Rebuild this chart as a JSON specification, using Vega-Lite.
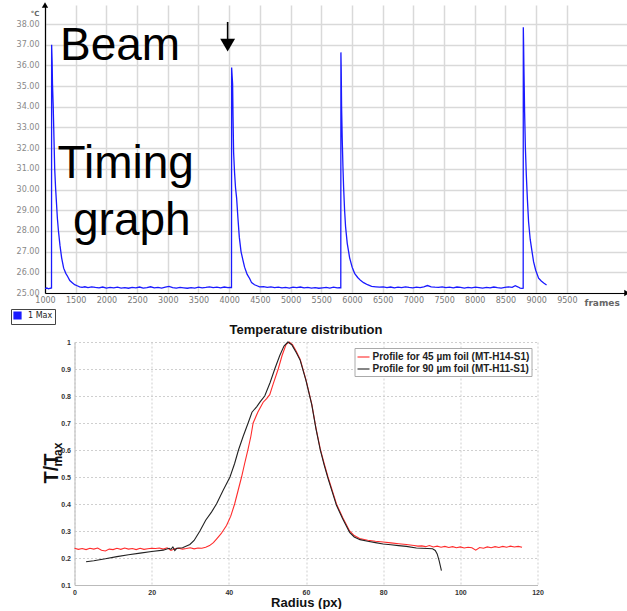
{
  "$schema": "https://vega.github.io/schema/vega-lite/v6.json",
  "background": "white",
  "padding": {"left": 10, "top": 2, "right": 0, "bottom": 0},
  "config": {"view": {"stroke": null}, "font": "Liberation Sans"},
  "spacing": -1,
  "resolve": {"scale": {"x": "independent", "y": "independent", "color": "independent"}, "legend": {"color": "independent"}, "axis": {"x": "independent", "y": "independent"}},
  "vconcat": [
    {
      "width": 582,
      "height": 288,
      "encoding": {
        "x": {"field": "frame", "type": "quantitative",
          "scale": {"domain": [1000, 10480], "nice": false, "zero": false},
          "axis": {"values": [1000,1500,2000,2500,3000,3500,4000,4500,5000,5500,6000,6500,7000,7500,8000,8500,9000,9500],
            "format": "d", "title": "frames", "titleX": 539, "titleY": 12, "titleAlign": "left", "titleBaseline": "alphabetic",
            "titleFont": "DejaVu Sans", "titleFontSize": 9, "titleFontWeight": "bold", "titleColor": "#666",
            "labelFont": "DejaVu Sans", "labelFontSize": 8, "labelColor": "#777", "labelPadding": 3, "labelFlush": false, "labelOverlap": false,
            "ticks": false, "domainColor": "#000", "domainWidth": 1.2, "gridColor": "#d9d9d9", "gridWidth": 1.5}},
        "y": {"field": "temp", "type": "quantitative",
          "scale": {"domain": [25, 38.92], "nice": false, "zero": false},
          "axis": {"values": [25,26,27,28,29,30,31,32,33,34,35,36,37,38], "format": ".2f", "labelOverlap": false,
            "title": "°C", "titleAngle": 0, "titleX": -6, "titleY": 10, "titleAlign": "right", "titleBaseline": "alphabetic",
            "titleFont": "DejaVu Sans", "titleFontSize": 7, "titleFontWeight": "bold", "titleColor": "#666",
            "labelFont": "DejaVu Sans", "labelFontSize": 8, "labelColor": "#888", "labelPadding": 6,
            "ticks": false, "domainColor": "#000", "domainWidth": 1.2, "gridColor": "#d9d9d9", "gridWidth": 1.5}}
      },
      "layer": [
        {
          "data": {"values": [
            {"frame":1000,"temp":25.22},{"frame":1030,"temp":25.24},{"frame":1060,"temp":25.2},{"frame":1085,"temp":25.23},{"frame":1106,"temp":25.24},
            {"frame":1108,"temp":37.0},{"frame":1116,"temp":36.2},{"frame":1122,"temp":35.1},{"frame":1134,"temp":34.0},{"frame":1142,"temp":33.0},{"frame":1150,"temp":32.0},{"frame":1158,"temp":31.0},{"frame":1172,"temp":30.1},{"frame":1186,"temp":29.4},{"frame":1202,"temp":28.6},{"frame":1219,"temp":28.0},{"frame":1244,"temp":27.3},{"frame":1271,"temp":26.7},{"frame":1304,"temp":26.2},{"frame":1339,"temp":25.95},{"frame":1369,"temp":25.8},{"frame":1404,"temp":25.6},{"frame":1444,"temp":25.5},{"frame":1483,"temp":25.4},{"frame":1524,"temp":25.35},{"frame":1564,"temp":25.3},{"frame":1604,"temp":25.27},
            {"frame":1650,"temp":25.3},{"frame":1700,"temp":25.26},{"frame":1760,"temp":25.3},{"frame":1820,"temp":25.27},{"frame":1880,"temp":25.25},{"frame":1940,"temp":25.29},{"frame":2000,"temp":25.24},{"frame":2060,"temp":25.27},{"frame":2120,"temp":25.25},{"frame":2180,"temp":25.28},{"frame":2240,"temp":25.24},{"frame":2300,"temp":25.26},{"frame":2360,"temp":25.23},{"frame":2420,"temp":25.27},{"frame":2480,"temp":25.25},{"frame":2540,"temp":25.29},{"frame":2600,"temp":25.24},{"frame":2660,"temp":25.26},{"frame":2720,"temp":25.3},{"frame":2780,"temp":25.25},{"frame":2840,"temp":25.27},{"frame":2900,"temp":25.24},{"frame":2960,"temp":25.28},{"frame":3020,"temp":25.32},{"frame":3080,"temp":25.26},{"frame":3140,"temp":25.24},{"frame":3200,"temp":25.27},{"frame":3260,"temp":25.25},{"frame":3320,"temp":25.23},{"frame":3380,"temp":25.26},{"frame":3440,"temp":25.24},{"frame":3500,"temp":25.28},{"frame":3560,"temp":25.25},{"frame":3620,"temp":25.27},{"frame":3680,"temp":25.3},{"frame":3740,"temp":25.26},{"frame":3800,"temp":25.28},{"frame":3860,"temp":25.25},{"frame":3920,"temp":25.29},{"frame":3980,"temp":25.26},{"frame":4015,"temp":25.27},
            {"frame":4038,"temp":25.26},{"frame":4040,"temp":35.9},{"frame":4048,"temp":35.5},{"frame":4056,"temp":35.1},{"frame":4063,"temp":33.5},{"frame":4072,"temp":31.8},{"frame":4088,"temp":30.8},{"frame":4103,"temp":30.1},{"frame":4121,"temp":29.6},{"frame":4143,"temp":28.6},{"frame":4165,"temp":27.7},{"frame":4193,"temp":27.0},{"frame":4223,"temp":26.6},{"frame":4251,"temp":26.25},{"frame":4293,"temp":25.9},{"frame":4333,"temp":25.7},{"frame":4365,"temp":25.5},{"frame":4413,"temp":25.4},{"frame":4453,"temp":25.35},{"frame":4495,"temp":25.3},
            {"frame":4560,"temp":25.31},{"frame":4620,"temp":25.27},{"frame":4680,"temp":25.3},{"frame":4740,"temp":25.26},{"frame":4800,"temp":25.28},{"frame":4860,"temp":25.25},{"frame":4920,"temp":25.27},{"frame":4980,"temp":25.24},{"frame":5040,"temp":25.28},{"frame":5100,"temp":25.26},{"frame":5160,"temp":25.29},{"frame":5220,"temp":25.25},{"frame":5280,"temp":25.27},{"frame":5340,"temp":25.24},{"frame":5400,"temp":25.26},{"frame":5460,"temp":25.23},{"frame":5520,"temp":25.25},{"frame":5580,"temp":25.27},{"frame":5640,"temp":25.24},{"frame":5700,"temp":25.28},{"frame":5760,"temp":25.25},{"frame":5800,"temp":25.26},
            {"frame":5818,"temp":25.25},{"frame":5820,"temp":36.63},{"frame":5825,"temp":35.8},{"frame":5831,"temp":34.0},{"frame":5841,"temp":32.5},{"frame":5853,"temp":31.1},{"frame":5864,"temp":30.1},{"frame":5880,"temp":29.0},{"frame":5896,"temp":28.2},{"frame":5923,"temp":27.4},{"frame":5962,"temp":26.7},{"frame":6003,"temp":26.25},{"frame":6043,"temp":25.95},{"frame":6093,"temp":25.75},{"frame":6143,"temp":25.6},{"frame":6190,"temp":25.5},{"frame":6253,"temp":25.4},{"frame":6320,"temp":25.32},
            {"frame":6390,"temp":25.3},{"frame":6450,"temp":25.28},{"frame":6510,"temp":25.3},{"frame":6570,"temp":25.26},{"frame":6630,"temp":25.29},{"frame":6690,"temp":25.25},{"frame":6750,"temp":25.28},{"frame":6810,"temp":25.26},{"frame":6870,"temp":25.3},{"frame":6930,"temp":25.27},{"frame":6990,"temp":25.25},{"frame":7050,"temp":25.28},{"frame":7110,"temp":25.26},{"frame":7170,"temp":25.3},{"frame":7230,"temp":25.36},{"frame":7290,"temp":25.3},{"frame":7350,"temp":25.28},{"frame":7410,"temp":25.27},{"frame":7470,"temp":25.3},{"frame":7530,"temp":25.26},{"frame":7590,"temp":25.28},{"frame":7650,"temp":25.25},{"frame":7710,"temp":25.29},{"frame":7770,"temp":25.27},{"frame":7830,"temp":25.24},{"frame":7890,"temp":25.27},{"frame":7950,"temp":25.25},{"frame":8010,"temp":25.28},{"frame":8070,"temp":25.26},{"frame":8130,"temp":25.24},{"frame":8190,"temp":25.27},{"frame":8250,"temp":25.25},{"frame":8310,"temp":25.29},{"frame":8370,"temp":25.26},{"frame":8430,"temp":25.24},{"frame":8490,"temp":25.27},{"frame":8550,"temp":25.3},{"frame":8610,"temp":25.27},{"frame":8660,"temp":25.35},{"frame":8700,"temp":25.3},{"frame":8740,"temp":25.24},{"frame":8770,"temp":25.22},
            {"frame":8789,"temp":25.23},{"frame":8791,"temp":37.84},{"frame":8796,"temp":37.0},{"frame":8801,"temp":35.87},{"frame":8807,"temp":34.8},{"frame":8812,"temp":33.75},{"frame":8825,"temp":32.0},{"frame":8840,"temp":30.7},{"frame":8858,"temp":29.5},{"frame":8877,"temp":28.43},{"frame":8903,"temp":27.6},{"frame":8933,"temp":27.0},{"frame":8959,"temp":26.5},{"frame":8993,"temp":26.1},{"frame":9040,"temp":25.72},{"frame":9083,"temp":25.58},{"frame":9123,"temp":25.48},{"frame":9170,"temp":25.39}
          ]},
          "mark": {"type": "line", "strokeWidth": 1.3, "clip": true},
          "encoding": {
            "color": {"datum": "1 Max", "type": "nominal",
              "scale": {"domain": ["1 Max"], "range": ["#1a1aff"]},
              "legend": {"orient": "none", "legendX": -34, "legendY": 304, "title": null,
                "symbolType": "square", "symbolSize": 45, "symbolFillColor": "#1a1aff", "symbolStrokeColor": "#1a1aff",
                "labelFont": "DejaVu Sans", "labelFontSize": 8, "labelColor": "#222", "labelOffset": 6,
                "strokeColor": "#444", "padding": 2}}
          }
        },
        {
          "data": {"values": [
            {"frame": 1244, "temp": 36.26, "label": "Beam"},
            {"frame": 1204, "temp": 30.56, "label": "Timing"},
            {"frame": 1456, "temp": 27.8, "label": "graph"}
          ]},
          "mark": {"type": "text", "font": "Liberation Sans", "fontSize": 46, "align": "left", "baseline": "alphabetic", "color": "#000"},
          "encoding": {"text": {"field": "label"}}
        },
        {
          "data": {"values": [{"frame": 3975, "temp": 38.1, "temp2": 37.2}]},
          "mark": {"type": "rule", "strokeWidth": 1.6, "color": "#000"},
          "encoding": {"y2": {"field": "temp2"}}
        },
        {
          "data": {"values": [{"frame": 3975, "temp": 36.98}]},
          "mark": {"type": "point", "shape": "triangle-down", "size": 220, "filled": true, "color": "#000", "opacity": 1},
          "encoding": {}
        },
        {
          "data": {"values": [{"frame": 10480, "temp": 25}]},
          "mark": {"type": "point", "shape": "triangle-right", "size": 40, "filled": true, "color": "#000", "opacity": 1},
          "encoding": {}
        },
        {
          "data": {"values": [{"frame": 1000, "temp": 38.92}]},
          "mark": {"type": "point", "shape": "triangle-up", "size": 40, "filled": true, "color": "#000", "opacity": 1},
          "encoding": {}
        }
      ]
    },
    {
      "spacing": -4.5,
      "resolve": {"scale": {"x": "independent", "y": "independent", "color": "independent"}, "legend": {"color": "independent"}},
      "hconcat": [
        {
          "width": 1,
          "height": 1,
          "data": {"values": []},
          "mark": {"type": "point"},
          "encoding": {}
        },
        {
          "width": 463,
          "height": 243,
          "title": {"text": "Temperature distribution", "font": "Liberation Sans", "fontSize": 13, "fontWeight": "bold", "color": "#111", "offset": 1, "anchor": "middle"},
          "encoding": {
            "x": {"field": "r", "type": "quantitative",
              "scale": {"domain": [0, 120], "nice": false, "zero": false},
              "axis": {"values": [0,20,40,60,80,100,120], "title": "Radius (px)",
                "titleFont": "Liberation Sans", "titleFontSize": 13, "titleFontWeight": "bold", "titleColor": "#111", "titlePadding": 1,
                "labelFont": "Liberation Sans", "labelFontSize": 7, "labelFontWeight": "bold", "labelColor": "#333", "labelPadding": 3, "labelFlush": false, "labelOverlap": false,
                "ticks": false, "domainColor": "#bbb", "gridColor": "#cfcfcf", "gridDash": [2, 2]}},
            "y": {"field": "v", "type": "quantitative",
              "scale": {"domain": [0.1, 1], "nice": false, "zero": false},
              "axis": {"values": [0.1,0.2,0.3,0.4,0.5,0.6,0.7,0.8,0.9,1], "format": "~g", "title": "T/T", "labelOverlap": false,
                "titleFont": "Liberation Sans", "titleFontSize": 20, "titleFontWeight": "bold", "titleColor": "#111", "titlePadding": -1, "titleY": 126,
                "labelFont": "Liberation Sans", "labelFontSize": 7, "labelFontWeight": "bold", "labelColor": "#333", "labelPadding": 4,
                "ticks": false, "domainColor": "#bbb", "gridColor": "#cfcfcf", "gridDash": [2, 2]}}
          },
          "layer": [
            {
              "data": {"values": [
                {"r":0,"v":0.236},{"r":1,"v":0.232},{"r":2,"v":0.235},{"r":3,"v":0.231},{"r":4,"v":0.236},{"r":5,"v":0.233},{"r":6,"v":0.237},{"r":7,"v":0.229},{"r":8,"v":0.226},{"r":9,"v":0.233},{"r":10,"v":0.231},{"r":11,"v":0.236},{"r":12,"v":0.232},{"r":13,"v":0.237},{"r":14,"v":0.233},{"r":15,"v":0.235},{"r":16,"v":0.231},{"r":17,"v":0.236},{"r":18,"v":0.232},{"r":19,"v":0.234},{"r":20,"v":0.236},{"r":21,"v":0.235},{"r":22,"v":0.237},{"r":23,"v":0.233},{"r":24,"v":0.238},{"r":25,"v":0.228},{"r":26,"v":0.234},{"r":27,"v":0.236},{"r":28,"v":0.233},{"r":29,"v":0.235},{"r":30,"v":0.238},{"r":31,"v":0.234},{"r":32,"v":0.237},{"r":33,"v":0.236},{"r":34,"v":0.24},{"r":35,"v":0.246},{"r":36,"v":0.257},{"r":36.8,"v":0.27},{"r":38,"v":0.29},{"r":39.4,"v":0.32},{"r":40.5,"v":0.355},{"r":41.5,"v":0.4},{"r":42.4,"v":0.45},{"r":43.3,"v":0.5},{"r":44.1,"v":0.55},{"r":45,"v":0.604},{"r":45.7,"v":0.65},{"r":46.3,"v":0.7},{"r":47.5,"v":0.74},{"r":48.9,"v":0.777},{"r":49.8,"v":0.79},{"r":50.6,"v":0.805},{"r":51.5,"v":0.845},{"r":52.8,"v":0.9},{"r":53.8,"v":0.95},{"r":54.8,"v":0.99},{"r":55.6,"v":1.0},{"r":56.5,"v":0.99},{"r":57.5,"v":0.965},{"r":58.5,"v":0.935},{"r":60,"v":0.86},{"r":61.5,"v":0.77},{"r":62.6,"v":0.68},{"r":63.7,"v":0.604},{"r":64.7,"v":0.55},{"r":65.7,"v":0.5},{"r":66.8,"v":0.45},{"r":67.9,"v":0.4},{"r":69.5,"v":0.35},{"r":71.3,"v":0.3},{"r":72.5,"v":0.283},{"r":73.9,"v":0.272},{"r":76,"v":0.266},{"r":78,"v":0.262},{"r":80,"v":0.259},{"r":82,"v":0.256},{"r":84,"v":0.253},{"r":86,"v":0.25},{"r":88,"v":0.246},{"r":89,"v":0.244},{"r":90,"v":0.245},{"r":91,"v":0.242},{"r":92,"v":0.246},{"r":93,"v":0.241},{"r":94,"v":0.244},{"r":95,"v":0.24},{"r":96,"v":0.243},{"r":97,"v":0.239},{"r":98,"v":0.242},{"r":99,"v":0.238},{"r":100,"v":0.241},{"r":101,"v":0.237},{"r":102,"v":0.24},{"r":103,"v":0.238},{"r":104,"v":0.229},{"r":105,"v":0.239},{"r":106,"v":0.236},{"r":107,"v":0.241},{"r":108,"v":0.238},{"r":109,"v":0.242},{"r":110,"v":0.239},{"r":111,"v":0.243},{"r":112,"v":0.24},{"r":113,"v":0.244},{"r":114,"v":0.241},{"r":115,"v":0.243},{"r":116,"v":0.24}
              ]},
              "mark": {"type": "line", "strokeWidth": 1.1},
              "encoding": {
                "color": {"datum": "Profile for 45 µm foil (MT-H14-S1)", "type": "nominal",
                  "scale": {"domain": ["Profile for 45 µm foil (MT-H14-S1)", "Profile for 90 µm foil (MT-H11-S1)"], "range": ["#ff2b2b", "#222222"]},
                  "legend": {"orient": "top-right", "offset": 6, "title": null, "symbolType": "stroke", "symbolSize": 144, "symbolStrokeWidth": 2, "symbolOpacity": 0.55,
                    "labelFont": "Liberation Sans", "labelFontSize": 10, "labelFontWeight": "bold", "labelColor": "#222", "labelOffset": 2, "labelLimit": 400,
                    "strokeColor": "#aaa", "fillColor": "white", "padding": 2, "rowPadding": 0}}
              }
            },
            {
              "data": {"values": [
                {"r":3,"v":0.186},{"r":5,"v":0.19},{"r":8,"v":0.197},{"r":11,"v":0.205},{"r":14,"v":0.212},{"r":17,"v":0.218},{"r":20,"v":0.224},{"r":23,"v":0.229},{"r":24.5,"v":0.236},{"r":25,"v":0.232},{"r":25.5,"v":0.241},{"r":26,"v":0.228},{"r":26.5,"v":0.236},{"r":28,"v":0.238},{"r":29.9,"v":0.25},{"r":31,"v":0.265},{"r":32.5,"v":0.3},{"r":34,"v":0.34},{"r":35.5,"v":0.37},{"r":36.8,"v":0.4},{"r":38.5,"v":0.45},{"r":40.3,"v":0.5},{"r":41.5,"v":0.55},{"r":42.5,"v":0.6},{"r":43.7,"v":0.65},{"r":45,"v":0.7},{"r":46,"v":0.74},{"r":47.2,"v":0.76},{"r":48.2,"v":0.78},{"r":49.3,"v":0.8},{"r":50.7,"v":0.85},{"r":51.9,"v":0.9},{"r":53.2,"v":0.95},{"r":54.3,"v":0.985},{"r":55.3,"v":1.0},{"r":56.3,"v":0.99},{"r":57.5,"v":0.96},{"r":58.5,"v":0.932},{"r":60,"v":0.857},{"r":61.5,"v":0.767},{"r":62.6,"v":0.677},{"r":63.7,"v":0.6},{"r":64.7,"v":0.545},{"r":65.7,"v":0.495},{"r":66.8,"v":0.445},{"r":67.9,"v":0.395},{"r":69.5,"v":0.345},{"r":71.3,"v":0.295},{"r":72.5,"v":0.278},{"r":74,"v":0.268},{"r":76,"v":0.262},{"r":78,"v":0.257},{"r":80,"v":0.252},{"r":82,"v":0.249},{"r":84,"v":0.246},{"r":86,"v":0.243},{"r":88.6,"v":0.237},{"r":90,"v":0.236},{"r":91.5,"v":0.235},{"r":92.8,"v":0.234},{"r":93.5,"v":0.228},{"r":94,"v":0.215},{"r":94.5,"v":0.19},{"r":95.1,"v":0.153}
              ]},
              "mark": {"type": "line", "strokeWidth": 1.1},
              "encoding": {
                "color": {"datum": "Profile for 90 µm foil (MT-H11-S1)", "type": "nominal"}
              }
            },
            {
              "data": {"values": [{"r": -4.4, "v": 0.583, "t": "max"}]},
              "mark": {"type": "text", "angle": 270, "font": "Liberation Sans", "fontSize": 12, "fontWeight": "bold", "align": "center", "baseline": "middle", "color": "#111"},
              "encoding": {"text": {"field": "t"}}
            }
          ]
        }
      ]
    }
  ]
}
